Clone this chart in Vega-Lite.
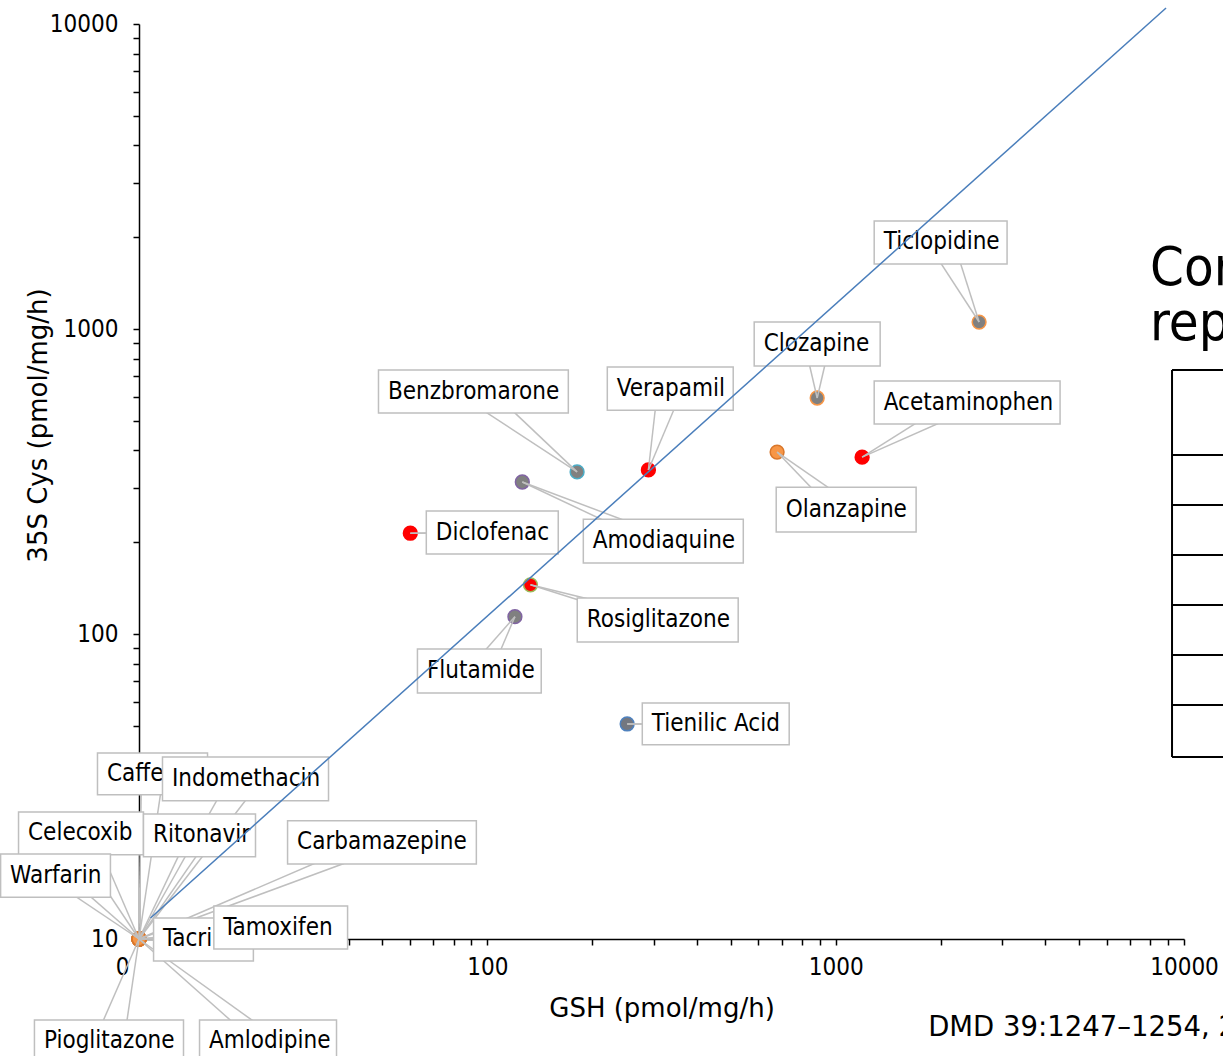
{
  "$schema": "https://vega.github.io/schema/vega-lite/v6.json",
  "width": 1045,
  "height": 915,
  "autosize": {"type": "none"},
  "padding": {"left": 139, "top": 24, "right": 39, "bottom": 117},
  "background": "white",
  "config": {"view": {"stroke": null}, "font": "DejaVu Sans Condensed"},
  "datasets": {
    "drugs": [
      {"name": "Ticlopidine", "gsh": 2581, "cys": 1054, "group": "A", "bx1": 1290, "bx2": 3105, "by1": 2260, "by2": 1634},
      {"name": "Clozapine", "gsh": 885, "cys": 594, "group": "A", "bx1": 583.6, "bx2": 1342, "by1": 1054.5, "by2": 756},
      {"name": "Acetaminophen", "gsh": 1191, "cys": 380, "group": "B", "bx1": 1290, "bx2": 4408, "by1": 675, "by2": 488},
      {"name": "Olanzapine", "gsh": 679, "cys": 395, "group": "C", "bx1": 675, "bx2": 1702, "by1": 303, "by2": 216},
      {"name": "Verapamil", "gsh": 290, "cys": 345, "group": "B", "bx1": 221, "bx2": 508, "by1": 751, "by2": 542},
      {"name": "Benzbromarone", "gsh": 181, "cys": 340, "group": "D", "bx1": 48.7, "bx2": 170.8, "by1": 734, "by2": 530},
      {"name": "Amodiaquine", "gsh": 126, "cys": 315, "group": "E", "bx1": 188.6, "bx2": 543, "by1": 238, "by2": 171},
      {"name": "Diclofenac", "gsh": 60.1, "cys": 214, "group": "B", "bx1": 66.8, "bx2": 159.8, "by1": 253, "by2": 183},
      {"name": "Rosiglitazone", "gsh": 133, "cys": 145, "group": "F", "bx1": 181.2, "bx2": 525, "by1": 131.2, "by2": 94.1},
      {"name": "Flutamide", "gsh": 120, "cys": 114, "group": "E", "bx1": 63.0, "bx2": 142.8, "by1": 89.3, "by2": 64.1},
      {"name": "Tienilic Acid", "gsh": 252, "cys": 50.7, "group": "G", "bx1": 278.5, "bx2": 735.5, "by1": 59.4, "by2": 43.3},
      {"name": "Caffeine", "gsh": 10, "cys": 10, "group": "C", "bx1": 7.6, "bx2": 15.73, "by1": 40.7, "by2": 29.7},
      {"name": "Indomethacin", "gsh": 10, "cys": 10, "group": "C", "bx1": 11.68, "bx2": 35.0, "by1": 39.5, "by2": 28.4},
      {"name": "Celecoxib", "gsh": 10, "cys": 10, "group": "C", "bx1": 4.51, "bx2": 10.3, "by1": 26.1, "by2": 18.9},
      {"name": "Ritonavir", "gsh": 10, "cys": 10, "group": "C", "bx1": 10.3, "bx2": 21.6, "by1": 25.7, "by2": 18.6},
      {"name": "Warfarin", "gsh": 10, "cys": 10, "group": "C", "bx1": 4.006, "bx2": 8.28, "by1": 19.0, "by2": 13.7},
      {"name": "Carbamazepine", "gsh": 10, "cys": 10, "group": "C", "bx1": 26.7, "bx2": 93.0, "by1": 24.4, "by2": 17.6},
      {"name": "Tacrine", "gsh": 10, "cys": 10, "group": "C", "bx1": 11.01, "bx2": 21.3, "by1": 11.72, "by2": 8.47},
      {"name": "Tamoxifen", "gsh": 10, "cys": 10, "group": "C", "bx1": 16.4, "bx2": 39.7, "by1": 12.83, "by2": 9.27},
      {"name": "Pioglitazone", "gsh": 10, "cys": 10, "group": "C", "bx1": 5.01, "bx2": 13.42, "by1": 5.43, "by2": 3.92},
      {"name": "Amlodipine", "gsh": 10, "cys": 10, "group": "C", "bx1": 14.92, "bx2": 36.9, "by1": 5.43, "by2": 3.92}
    ],
    "fit": [
      {"gsh": 10.79, "cys": 11.72},
      {"gsh": 8880, "cys": 11285}
    ],
    "tableRows": [
      {"edge": 734}, {"edge": 386}, {"edge": 265}, {"edge": 181.6},
      {"edge": 124.5}, {"edge": 85.3}, {"edge": 58.5}, {"edge": 39.5}
    ],
    "heading": [
      {"text": "Correlation", "gx": 7990, "gy": 1394},
      {"text": "reported", "gx": 7990, "gy": 920}
    ],
    "source": [
      {"text": "DMD 39:1247–1254, 2011", "gx": 1843, "gy": 5.11}
    ]
  },
  "layer": [
    {
      "data": {"name": "drugs"},
      "mark": {"type": "point", "shape": "circle", "filled": true, "size": 190, "strokeWidth": 1.5, "opacity": 1},
      "encoding": {
        "x": {
          "field": "gsh", "type": "quantitative",
          "scale": {"type": "log", "domain": [10, 10000], "nice": false},
          "axis": {
            "title": "GSH (pmol/mg/h)",
            "values": [10, 20, 30, 40, 50, 60, 70, 80, 90, 100, 200, 300, 400, 500, 600, 700, 800, 900, 1000, 2000, 3000, 4000, 5000, 6000, 7000, 8000, 9000, 10000],
            "labelExpr": "datum.value == 10 ? '0' : ((datum.value == 100 || datum.value == 1000 || datum.value == 10000) ? format(datum.value, 'd') : '')",
            "labelOffset": {"condition": {"test": "datum.value == 10", "value": -17}, "value": 0},
            "grid": false,
            "domainColor": "black", "domainWidth": 1.5,
            "tickColor": "black", "tickWidth": 1.5, "tickSize": 6,
            "labelFont": "DejaVu Sans Condensed", "labelFontSize": 24, "labelColor": "black",
            "labelPadding": 10, "labelFlush": false, "labelOverlap": false,
            "titleFont": "DejaVu Sans", "titleFontSize": 26, "titleFontWeight": "normal", "titleColor": "black",
            "titleY": 69, "titleBaseline": "middle"
          }
        },
        "y": {
          "field": "cys", "type": "quantitative",
          "scale": {"type": "log", "domain": [10, 10000], "nice": false},
          "axis": {
            "title": "35S Cys (pmol/mg/h)",
            "values": [10, 20, 30, 40, 50, 60, 70, 80, 90, 100, 200, 300, 400, 500, 600, 700, 800, 900, 1000, 2000, 3000, 4000, 5000, 6000, 7000, 8000, 9000, 10000],
            "labelExpr": "(datum.value == 10 || datum.value == 100 || datum.value == 1000 || datum.value == 10000) ? format(datum.value, 'd') : ''",
            "grid": false,
            "domainColor": "black", "domainWidth": 1.5,
            "tickColor": "black", "tickWidth": 1.5, "tickSize": 6,
            "labelFont": "DejaVu Sans Condensed", "labelFontSize": 24, "labelColor": "black",
            "labelPadding": 15, "labelFlush": false, "labelOverlap": false,
            "titleFont": "DejaVu Sans", "titleFontSize": 26, "titleFontWeight": "normal", "titleColor": "black",
            "titleX": -101, "titleY": 401, "titleAngle": 270, "titleAlign": "center", "titleBaseline": "middle"
          }
        },
        "fill": {
          "field": "group", "type": "nominal", "legend": null,
          "scale": {"domain": ["A", "B", "C", "D", "E", "F", "G"], "range": ["#808080", "#ff0000", "#f79646", "#808080", "#808080", "#ff0000", "#737780"]}
        },
        "stroke": {
          "field": "group", "type": "nominal", "legend": null,
          "scale": {"domain": ["A", "B", "C", "D", "E", "F", "G"], "range": ["#f79646", "#ff0000", "#d9772b", "#4bacc6", "#8064a2", "#9bbb59", "#4f81bd"]}
        }
      }
    },
    {
      "data": {"name": "drugs"},
      "transform": [
        {"calculate": "pow(datum.bx1, 0.6) * pow(datum.bx2, 0.4)", "as": "wa"},
        {"calculate": "pow(datum.bx1, 0.4) * pow(datum.bx2, 0.6)", "as": "wb"},
        {"calculate": "sqrt(datum.by1 * datum.by2)", "as": "wy"},
        {"fold": ["wa", "wb"], "as": ["side", "wx"]}
      ],
      "mark": {"type": "rule", "color": "#bfbfbf", "strokeWidth": 1.5},
      "encoding": {
        "x": {"field": "gsh", "type": "quantitative", "scale": {"type": "log", "domain": [10, 10000], "nice": false}},
        "y": {"field": "cys", "type": "quantitative", "scale": {"type": "log", "domain": [10, 10000], "nice": false}},
        "x2": {"field": "wx"},
        "y2": {"field": "wy"}
      }
    },
    {
      "data": {"name": "drugs"},
      "transform": [{"filter": "indexof(['Indomethacin', 'Ritonavir', 'Tamoxifen'], datum.name) < 0"}],
      "mark": {"type": "rect", "fill": "white", "stroke": "#bfbfbf", "strokeWidth": 1.5},
      "encoding": {
        "x": {"field": "bx1", "type": "quantitative", "scale": {"type": "log", "domain": [10, 10000], "nice": false}},
        "x2": {"field": "bx2"},
        "y": {"field": "by1", "type": "quantitative", "scale": {"type": "log", "domain": [10, 10000], "nice": false}},
        "y2": {"field": "by2"}
      }
    },
    {
      "data": {"name": "drugs"},
      "transform": [
        {"filter": "indexof(['Indomethacin', 'Ritonavir', 'Tamoxifen'], datum.name) < 0"},
        {"calculate": "sqrt(datum.by1 * datum.by2)", "as": "ty"}
      ],
      "mark": {"type": "text", "align": "left", "baseline": "middle", "dx": 9.5, "font": "DejaVu Sans Condensed", "fontSize": 24, "color": "black"},
      "encoding": {
        "x": {"field": "bx1", "type": "quantitative", "scale": {"type": "log", "domain": [10, 10000], "nice": false}},
        "y": {"field": "ty", "type": "quantitative", "scale": {"type": "log", "domain": [10, 10000], "nice": false}},
        "text": {"field": "name"}
      }
    },
    {
      "data": {"name": "drugs"},
      "transform": [{"filter": "indexof(['Indomethacin', 'Ritonavir', 'Tamoxifen'], datum.name) >= 0"}],
      "mark": {"type": "rect", "fill": "white", "stroke": "#bfbfbf", "strokeWidth": 1.5},
      "encoding": {
        "x": {"field": "bx1", "type": "quantitative", "scale": {"type": "log", "domain": [10, 10000], "nice": false}},
        "x2": {"field": "bx2"},
        "y": {"field": "by1", "type": "quantitative", "scale": {"type": "log", "domain": [10, 10000], "nice": false}},
        "y2": {"field": "by2"}
      }
    },
    {
      "data": {"name": "drugs"},
      "transform": [
        {"filter": "indexof(['Indomethacin', 'Ritonavir', 'Tamoxifen'], datum.name) >= 0"},
        {"calculate": "sqrt(datum.by1 * datum.by2)", "as": "ty"}
      ],
      "mark": {"type": "text", "align": "left", "baseline": "middle", "dx": 9.5, "font": "DejaVu Sans Condensed", "fontSize": 24, "color": "black"},
      "encoding": {
        "x": {"field": "bx1", "type": "quantitative", "scale": {"type": "log", "domain": [10, 10000], "nice": false}},
        "y": {"field": "ty", "type": "quantitative", "scale": {"type": "log", "domain": [10, 10000], "nice": false}},
        "text": {"field": "name"}
      }
    },
    {
      "data": {"name": "fit"},
      "mark": {"type": "line", "color": "#4a7ebb", "strokeWidth": 1.5},
      "encoding": {
        "x": {"field": "gsh", "type": "quantitative", "scale": {"type": "log", "domain": [10, 10000], "nice": false}},
        "y": {"field": "cys", "type": "quantitative", "scale": {"type": "log", "domain": [10, 10000], "nice": false}}
      }
    },
    {
      "data": {"name": "tableRows"},
      "mark": {"type": "rule", "color": "black", "strokeWidth": 2},
      "encoding": {
        "x": {"datum": 9239, "type": "quantitative", "scale": {"type": "log", "domain": [10, 10000], "nice": false}},
        "x2": {"datum": 20000},
        "y": {"field": "edge", "type": "quantitative", "scale": {"type": "log", "domain": [10, 10000], "nice": false}}
      }
    },
    {
      "data": {"values": [{"top": 734, "bottom": 39.5}]},
      "mark": {"type": "rule", "color": "black", "strokeWidth": 2},
      "encoding": {
        "x": {"datum": 9239, "type": "quantitative", "scale": {"type": "log", "domain": [10, 10000], "nice": false}},
        "y": {"field": "top", "type": "quantitative", "scale": {"type": "log", "domain": [10, 10000], "nice": false}},
        "y2": {"field": "bottom"}
      }
    },
    {
      "data": {"name": "heading"},
      "mark": {"type": "text", "align": "left", "baseline": "alphabetic", "font": "DejaVu Sans Condensed", "fontSize": 54, "color": "black"},
      "encoding": {
        "x": {"field": "gx", "type": "quantitative", "scale": {"type": "log", "domain": [10, 10000], "nice": false}},
        "y": {"field": "gy", "type": "quantitative", "scale": {"type": "log", "domain": [10, 10000], "nice": false}},
        "text": {"field": "text"}
      }
    },
    {
      "data": {"name": "source"},
      "mark": {"type": "text", "align": "left", "baseline": "middle", "font": "DejaVu Sans", "fontSize": 27.5, "color": "black"},
      "encoding": {
        "x": {"field": "gx", "type": "quantitative", "scale": {"type": "log", "domain": [10, 10000], "nice": false}},
        "y": {"field": "gy", "type": "quantitative", "scale": {"type": "log", "domain": [10, 10000], "nice": false}},
        "text": {"field": "text"}
      }
    }
  ]
}
